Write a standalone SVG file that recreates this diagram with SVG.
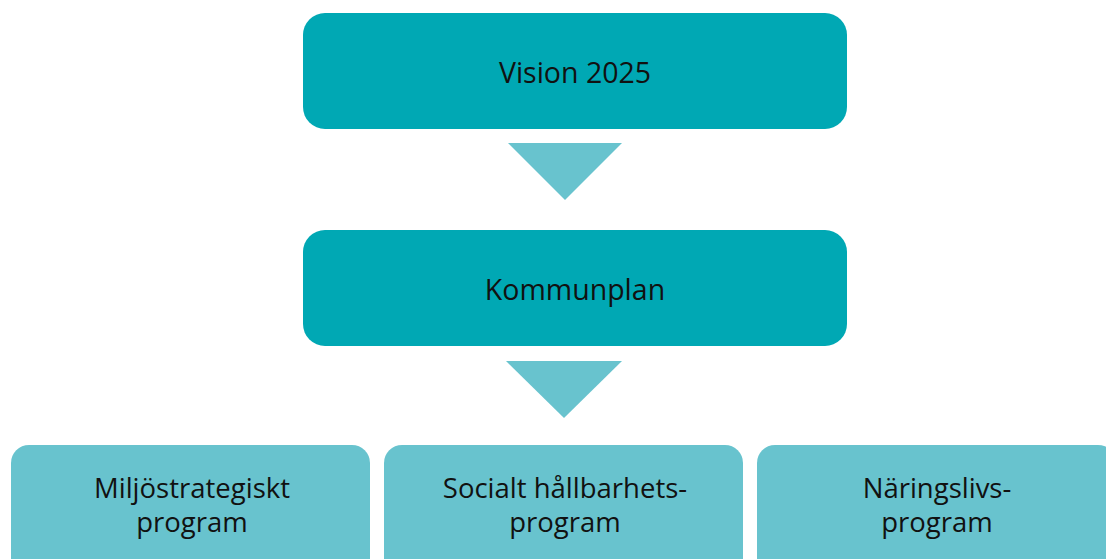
<svg xmlns="http://www.w3.org/2000/svg" width="1106" height="559" viewBox="0 0 1106 559">
<style>
.dark{fill:#00A8B4}
.light{fill:#68C3CE}
.arrow{fill:#68C3CE}
text{font-family:"Open Sans","Liberation Sans",sans-serif;font-size:28.5px;fill:#111;text-anchor:middle}
text.two{font-size:27.5px}
</style>
<rect width="1106" height="559" fill="#fff"/>
<g id="vision"><rect class="dark" x="303" y="13" width="544" height="116" rx="22"/><text x="575" y="83">Vision 2025</text></g>
<g id="kommunplan"><rect class="dark" x="303" y="230" width="544" height="116" rx="22"/><text x="575" y="300">Kommunplan</text></g>
<g id="miljo"><rect class="light" x="11" y="445" width="359" height="140" rx="18"/><text class="two" x="192" y="498">Miljöstrategiskt</text><text class="two" x="192" y="532">program</text></g>
<g id="socialt"><rect class="light" x="384" y="445" width="359" height="140" rx="18"/><text class="two" x="565" y="498">Socialt hållbarhets-</text><text class="two" x="565" y="532">program</text></g>
<g id="naringsliv"><rect class="light" x="757" y="445" width="359" height="140" rx="18"/><text class="two" x="937" y="498">Näringslivs-</text><text class="two" x="937" y="532">program</text></g>
<g id="connectors">
<polygon class="arrow" points="508,143 622,143 565,200"/>
<polygon class="arrow" points="506,361 622,361 564,418"/>
</g>
</svg>
